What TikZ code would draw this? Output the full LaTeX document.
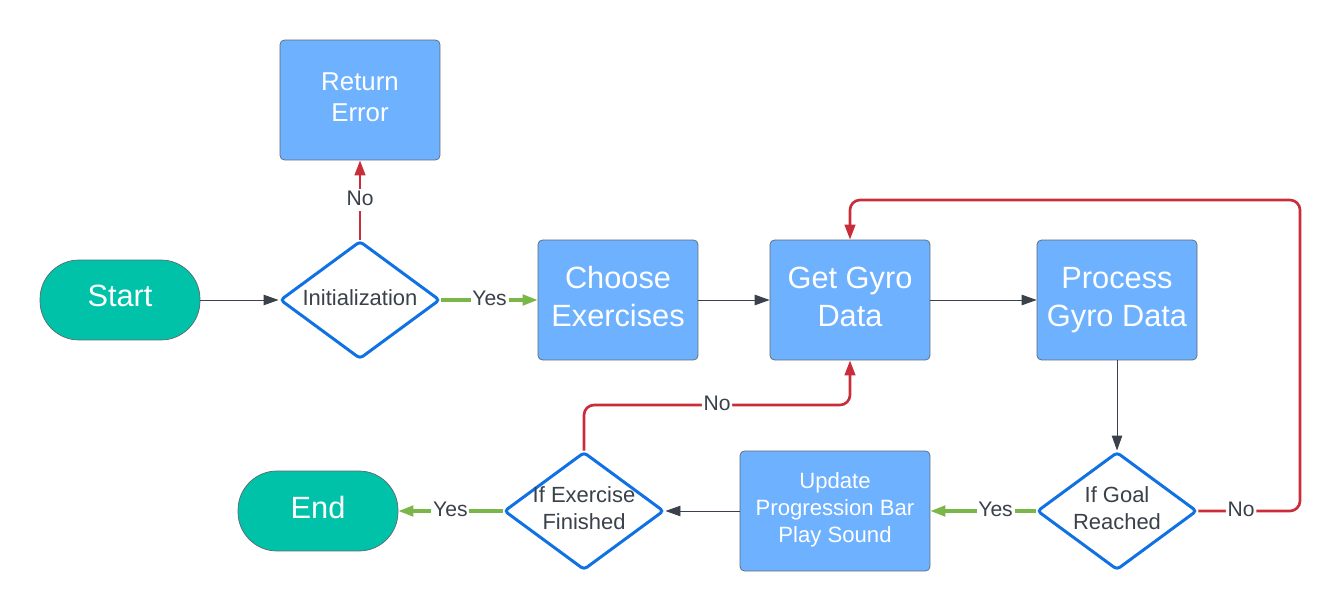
\documentclass[tikz,border=0pt]{standalone}
\usepackage{fontspec}
\setmainfont{Liberation Sans}
\usetikzlibrary{shapes.geometric,arrows.meta}
\definecolor{boxblue}{HTML}{6DB1FF}
\definecolor{edgegray}{HTML}{5E6873}
\definecolor{termteal}{HTML}{00C2A8}
\definecolor{decblue}{HTML}{1071E5}
\definecolor{txtgray}{HTML}{3A414A}
\definecolor{nored}{HTML}{C92D39}
\definecolor{yesgreen}{HTML}{7AB648}

\begin{document}
\begin{tikzpicture}[x=0.02cm,y=-0.02cm,
  term/.style={rectangle,rounded corners=0.78cm,draw=edgegray,fill=termteal,
             minimum width=3.2cm,minimum height=1.6cm,text=white,text depth=4.3pt,
             font=\fontsize{17.5}{21}\selectfont},
  proc/.style={rectangle,rounded corners=2.5pt,draw=edgegray,fill=boxblue,
             minimum width=3.2cm,minimum height=2.4cm,align=center,text=white,
             text depth=3.8pt,font=\fontsize{17.5}{21.5}\selectfont},
  dec/.style={diamond,draw=decblue,fill=white,line width=1.7pt,rounded corners=2pt,
             aspect=1.36,minimum width=3.2cm,minimum height=2.36cm,inner sep=-3pt,
             align=center,text=txtgray,text depth=3.2pt,
             font=\fontsize{12.5}{15.3}\selectfont},
  flow/.style={-{Triangle[length=0.3cm,width=0.21cm]},draw=txtgray,line width=0.55pt},
  yespath/.style={flow,draw=yesgreen,line width=1.8pt},
  nopath/.style={flow,draw=nored,line width=1.5pt},
  lbl/.style={fill=white,inner sep=1pt,text=txtgray,text depth=2.4pt,
             font=\fontsize{12}{14}\selectfont}
]
\useasboundingbox (0,0) rectangle (1341,611);

% ---- TOP ROW ----
\node[term] (start)   at (120,300)  {Start};
\node[dec]  (init)    at (360,300)  {Initialization};
\node[proc,text depth=3.4pt,font=\fontsize{14.7}{18}\selectfont] (err) at (360,100)
  {Return\\Error};
\node[proc] (choose)  at (618,300)  {Choose\\Exercises};
\node[proc] (get)     at (850,300)  {Get Gyro\\Data};
\node[proc] (process) at (1117,300) {Process\\Gyro Data};

% ---- BOTTOM ROW ----
\node[dec]  (goal)    at (1117,511) {If Goal\\Reached};
\node[proc,minimum width=3.8cm,text depth=3.6pt,font=\fontsize{12.6}{15.3}\selectfont]
  (update) at (835,511) {Update\\Progression Bar\\Play Sound};
\node[dec]  (exfin)   at (584,511)  {If Exercise\\Finished};
\node[term] (end)     at (318,511)  {End};

% ---- LOOP CORNERS ----
\coordinate (loopR) at (1300,511);
\coordinate (loopT) at (1300,200);
\coordinate (backY) at (717,405);

% ---- CONNECTIONS ----
\draw[flow] (start) -- (init);
\draw[nopath] (init) -- node[lbl]{No} (err);
\draw[yespath] (init) -- node[lbl]{Yes} (choose);
\draw[flow] (choose) -- (get);
\draw[flow] (get) -- (process);
\draw[flow] (process) -- (goal);
\draw[yespath] (goal) -- node[lbl,pos=0.38]{Yes} (update);
\draw[flow] (update) -- (exfin);
\draw[yespath] (exfin) -- node[lbl]{Yes} (end);

% goal not reached -> back to gyro data
\draw[nopath,rounded corners=0.2cm] (goal.east) -- node[lbl,pos=0.42]{No} (loopR)
  -- (loopT) -| (get.north);
% exercise not finished -> back to gyro data
\draw[nopath,rounded corners=0.2cm] (exfin.north) |- node[lbl,pos=0.75]{No}
  (get.south |- backY) -- (get.south);

\end{tikzpicture}
\end{document}
